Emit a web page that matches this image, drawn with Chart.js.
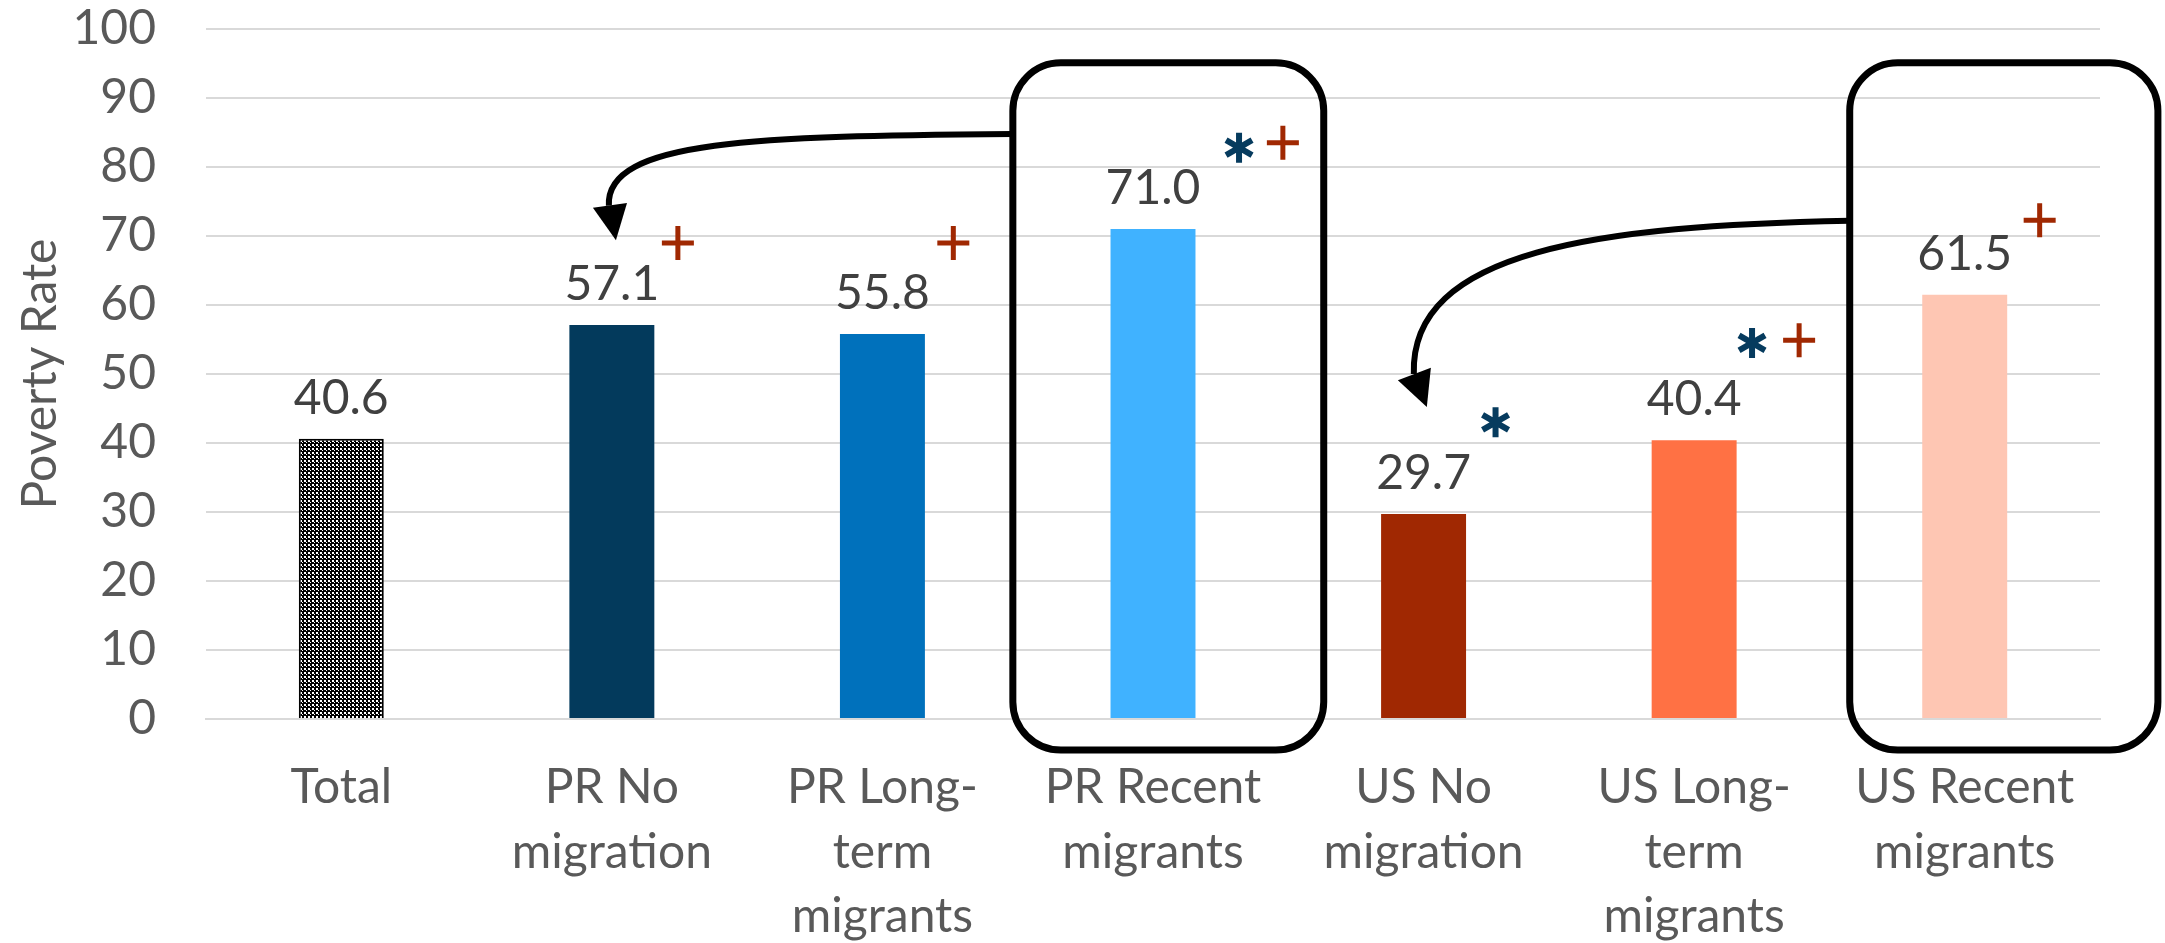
<!DOCTYPE html>
<html lang="en">
<head>
  <meta charset="UTF-8">
  <title>Poverty Rate</title>
  <style>
    body {
      margin: 0;
      background: #fff;
    }
    .chart-container {
      width: 2165px;
      height: 943px;
      position: relative;
    }
  </style>
  <script src="https://cdn.jsdelivr.net/npm/chart.js"></script>
</head>
<body>
  <div class="chart-container">
    <canvas id="myChart"></canvas>
  </div>

  <script>
    // categories and values
    const categories = [
      ['Total'],
      ['PR No', 'migration'],
      ['PR Long-', 'term', 'migrants'],
      ['PR Recent', 'migrants'],
      ['US No', 'migration'],
      ['US Long-', 'term', 'migrants'],
      ['US Recent', 'migrants']
    ];
    const povertyRate = [40.6, 57.1, 55.8, 71.0, 29.7, 40.4, 61.5];
    const barColors = ['pattern', '#033A5C', '#0071BC', '#40B2FF', '#A02802', '#FF7144', '#FEC6B3'];
    const yMin = 0, yMax = 100, yStep = 10;

    // significance markers (* and +) next to the bars
    const markerCat = [1, 2, 3, 3, 4, 5, 5, 6];
    const markerSym = ['+', '+', '*', '+', '*', '*', '+', '+'];
    const markerY = [69.0, 69.0, 82.8, 83.5, 43.0, 54.5, 54.9, 72.3];
    const markerDx = [0.244, 0.262, 0.318, 0.48, 0.266, 0.214, 0.388, 0.277];

    // rounded frames around the "recent migrants" bars [left, right] in category units
    const boxX = [[2.482, 3.631], [5.575, 6.714]];
    const boxY = [95.1, -4.5];

    // curved arrows: start, cp1, cp2, end, then arrow head (base left, tip, base right)
    const arrows = [
      [[2.482, 84.8], [1.547, 84.5], [0.975, 84.0], [0.989, 74.4], [0.930, 74.1], [1.015, 69.4], [1.056, 74.8]],
      [[5.575, 72.2], [4.652, 71.5], [3.949, 68.0], [3.964, 50.0], [3.905, 49.1], [4.012, 45.2], [4.027, 50.9]]
    ];

    function makePattern() {
      const c = document.createElement('canvas');
      c.width = 4; c.height = 4;
      const p = c.getContext('2d');
      p.fillStyle = '#000';
      p.fillRect(0, 0, 4, 4);
      p.fillStyle = '#fff';
      p.fillRect(0, 0, 2, 2);
      p.fillRect(2, 2, 1, 1);
      return p.createPattern(c, 'repeat');
    }

    const ctx = document.getElementById('myChart').getContext('2d');
    const hatch = makePattern();
    const fills = barColors.map(c => c === 'pattern' ? hatch : c);

    // value labels, markers, frames and arrows
    const annotations = {
      id: 'annotations',
      afterDatasetsDraw(chart) {
        const c = chart.ctx;
        const xs = chart.scales.x, ys = chart.scales.y;
        const catW = xs.getPixelForValue(1) - xs.getPixelForValue(0);
        c.save();

        // values above the bars
        c.font = '48px Lato';
        c.fillStyle = '#404040';
        c.textAlign = 'center';
        c.textBaseline = 'alphabetic';
        chart.getDatasetMeta(0).data.forEach((bar, i) => {
          c.fillText(povertyRate[i].toFixed(1), bar.x, bar.y - 25);
        });

        // markers
        markerCat.forEach((cat, i) => {
          const x = xs.getPixelForValue(cat) + markerDx[i] * catW;
          const y = ys.getPixelForValue(markerY[i]);
          c.beginPath();
          if (markerSym[i] === '+') {
            c.strokeStyle = '#A02802';
            c.lineWidth = 5;
            c.moveTo(x - 16, y); c.lineTo(x + 16, y);
            c.moveTo(x, y - 17); c.lineTo(x, y + 17);
          } else {
            c.strokeStyle = '#063B5E';
            c.lineWidth = 6;
            for (let k = 0; k < 3; k++) {
              const a = Math.PI / 2 + k * Math.PI / 3;
              c.moveTo(x + Math.cos(a) * 15, y + Math.sin(a) * 15);
              c.lineTo(x - Math.cos(a) * 15, y - Math.sin(a) * 15);
            }
          }
          c.stroke();
        });

        // frames
        c.strokeStyle = '#000';
        c.lineWidth = 7;
        boxX.forEach(b => {
          const l = xs.getPixelForValue(b[0]), r = xs.getPixelForValue(b[1]);
          const t = ys.getPixelForValue(boxY[0]), btm = ys.getPixelForValue(boxY[1]);
          c.beginPath();
          c.roundRect(l, t, r - l, btm - t, 48);
          c.stroke();
        });

        // arrows
        c.lineWidth = 6;
        c.fillStyle = '#000';
        arrows.forEach(a => {
          const p = a.map(pt => [xs.getPixelForValue(pt[0]), ys.getPixelForValue(pt[1])]);
          c.beginPath();
          c.moveTo(p[0][0], p[0][1]);
          c.bezierCurveTo(p[1][0], p[1][1], p[2][0], p[2][1], p[3][0], p[3][1]);
          c.stroke();
          c.beginPath();
          c.moveTo(p[4][0], p[4][1]);
          c.lineTo(p[5][0], p[5][1]);
          c.lineTo(p[6][0], p[6][1]);
          c.closePath();
          c.fill();
        });

        c.restore();
      }
    };

    const myChart = new Chart(ctx, {
      type: 'bar',
      data: {
        labels: categories,
        datasets: [{
          label: 'Poverty Rate',
          data: povertyRate,
          backgroundColor: fills,
          borderColor: barColors.map(c => c === 'pattern' ? '#000' : 'rgba(0,0,0,0)'),
          borderWidth: barColors.map(c => c === 'pattern' ? 2 : 0),
          categoryPercentage: 1,
          barPercentage: 0.314
        }]
      },
      options: {
        responsive: true,
        maintainAspectRatio: false,
        animation: false,
        devicePixelRatio: 1,
        layout: { padding: { left: 0, right: 65, top: 0, bottom: 0 } },
        plugins: {
          legend: { display: false },
          tooltip: { enabled: false }
        },
        scales: {
          x: {
            grid: { display: false, drawTicks: false },
            border: { display: true, color: '#D9D9D9', width: 2 },
            ticks: {
              color: '#595959',
              font: { family: 'Lato', size: 48, lineHeight: 1.35 },
              padding: 36,
              autoSkip: false,
              maxRotation: 0
            },
            afterFit: s => { s.height = 224; }
          },
          y: {
            min: yMin,
            max: yMax,
            grid: { color: '#D9D9D9', lineWidth: 2, drawTicks: false },
            border: { display: false },
            ticks: {
              stepSize: yStep,
              color: '#595959',
              font: { family: 'Lato', size: 48 },
              padding: 50
            },
            title: {
              display: true,
              text: 'Poverty Rate',
              color: '#595959',
              font: { family: 'Lato', size: 48 },
              padding: { top: 12, bottom: 0 }
            },
            afterFit: s => {
              s.width = 206;
              s.paddingTop = 29;   // tick padding otherwise pushes the plot down
              s.paddingBottom = 0;
            }
          }
        }
      },
      plugins: [annotations]
    });
  </script>
</body>
</html>
